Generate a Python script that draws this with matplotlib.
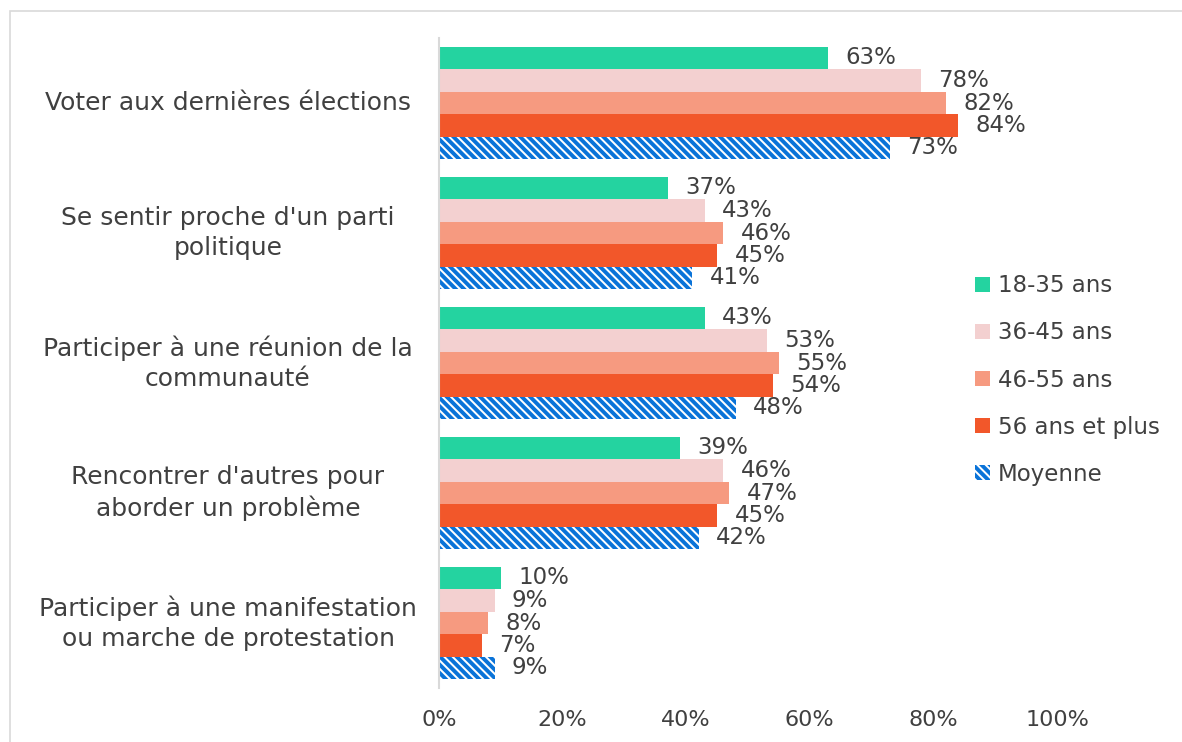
import numpy as np
import matplotlib
matplotlib.use("Agg")
import matplotlib.pyplot as plt
import matplotlib.transforms as mtransforms
from matplotlib.patches import Rectangle, Patch

categories = [
    "Voter aux dernières élections",
    "Se sentir proche d'un parti\npolitique",
    "Participer à une réunion de la\ncommunauté",
    "Rencontrer d'autres pour\naborder un problème",
    "Participer à une manifestation\nou marche de protestation",
]
series_names = ["18-35 ans", "36-45 ans", "46-55 ans", "56 ans et plus", "Moyenne"]
v_18_35 = [63, 37, 43, 39, 10]
v_36_45 = [78, 43, 53, 46, 9]
v_46_55 = [82, 46, 55, 47, 8]
v_56_plus = [84, 45, 54, 45, 7]
v_moyenne = [73, 41, 48, 42, 9]
x_ticks = [0, 20, 40, 60, 80, 100]

colors = ["#24D3A0", "#F3D0D0", "#F69A80", "#F2572A", "#0A73D8"]
text_color = "#404040"
hatch = "\\\\\\\\"

plt.rcParams["font.family"] = ["DejaVu Sans"]
plt.rcParams["hatch.linewidth"] = 2.8

W, H = 1182, 742
fig = plt.figure(figsize=(W / 100, H / 100), dpi=100)
ax = fig.add_axes((439 / W, 1 - 688 / H, (1057 - 439) / W, (688 - 38) / H))

# outer chart border (only top / left visible in the crop)
fig.patches.append(Rectangle((10 / W, -0.02), 1.1, 1 - 11 / H + 0.02,
                             transform=fig.transFigure, fill=False,
                             edgecolor="#D9D9D9", linewidth=1.2))

all_series = [v_18_35, v_36_45, v_46_55, v_56_plus, v_moyenne]
n = len(all_series)
bw = 22.5 / 130
y = np.arange(len(categories))

for j, vals in enumerate(all_series):
    pos = y + (j - (n - 1) / 2) * bw
    if j == n - 1:
        ax.barh(pos, vals, height=bw, color="white", edgecolor=colors[j],
                hatch=hatch, linewidth=0)
    else:
        ax.barh(pos, vals, height=bw, color=colors[j], linewidth=0)
    for p, v in zip(pos, vals):
        ax.annotate(f"{v}%", (v, p), xytext=(12.5, 0), textcoords="offset points",
                    va="center", ha="left", fontsize=16.5, color=text_color)

ax.set_xlim(0, 100)
ax.set_ylim(len(categories) - 0.5, -0.5)
ax.set_xticks(x_ticks)
ax.set_xticklabels([f"{t}%" for t in x_ticks], fontsize=16, color=text_color)
ax.tick_params(axis="x", length=0, pad=16)
ax.tick_params(axis="y", length=0)
ax.set_yticks([])

label_tr = mtransforms.blended_transform_factory(fig.transFigure, ax.transData)
for c, yy in zip(categories, y):
    ax.text(228 / W, yy, c, transform=label_tr, ha="center", va="center",
            multialignment="center", fontsize=18, color=text_color,
            linespacing=1.3)

for s in ["top", "right", "bottom"]:
    ax.spines[s].set_visible(False)
ax.spines["left"].set_color("#D9D9D9")
ax.spines["left"].set_linewidth(1.5)

handles = []
for j, name in enumerate(series_names):
    if j == n - 1:
        handles.append(Patch(facecolor="white", edgecolor=colors[j], hatch=hatch,
                             linewidth=0, label=name))
    else:
        handles.append(Patch(facecolor=colors[j], linewidth=0, label=name))
fig.legend(handles=handles, loc="center left", bbox_to_anchor=(954 / W, 1 - 380 / H),
           frameon=False, fontsize=16.5, handlelength=0.65, handleheight=0.65,
           handletextpad=0.35, labelspacing=1.05, labelcolor=text_color)

fig.savefig("out.png", dpi=100)
